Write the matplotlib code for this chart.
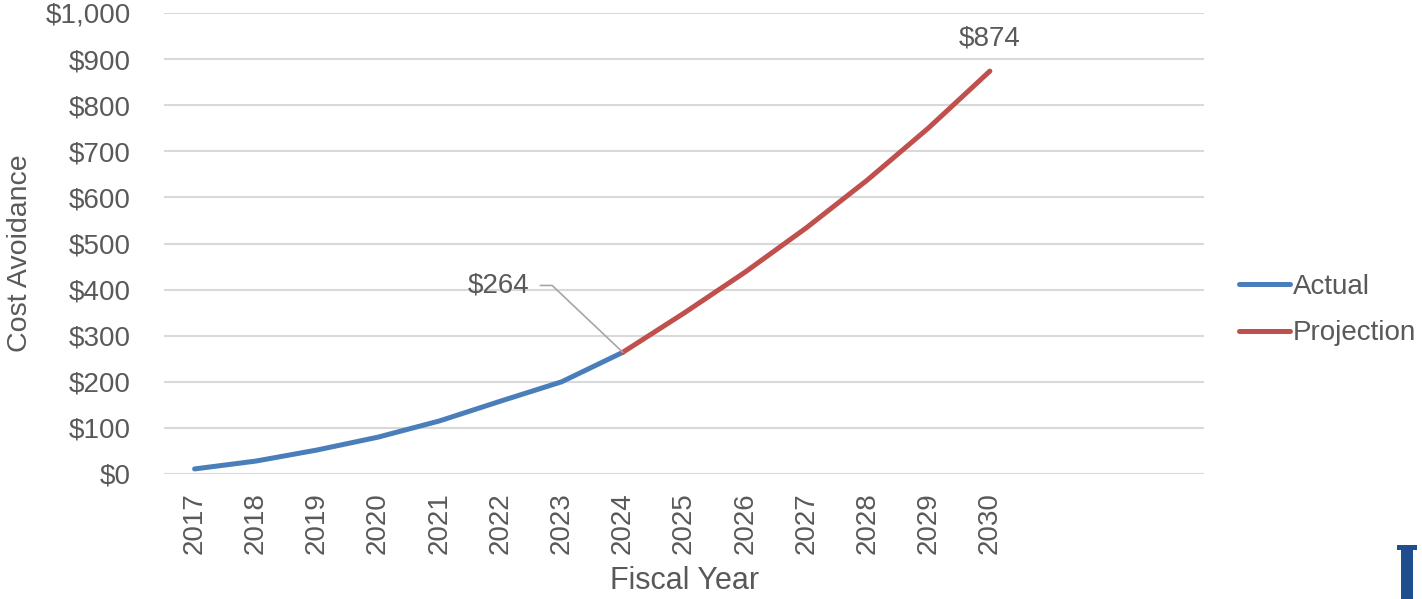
import matplotlib
matplotlib.use("Agg")
import matplotlib.pyplot as plt
from matplotlib.patches import Rectangle

years = [str(y) for y in range(2017, 2031)] + ["", "", ""]
actual_years = list(range(2017, 2025))
actual_values = [11, 28, 52, 80, 115, 158, 200, 264]
proj_years = list(range(2024, 2031))
proj_values = [264, 349, 438, 534, 638, 751, 874]
yticks = [0, 100, 200, 300, 400, 500, 600, 700, 800, 900, 1000]

TXT = "#595959"
BLUE = "#4A7EBB"
RED = "#C0504D"
GRID = "#D9D9D9"

plt.rcParams['font.family'] = ['Liberation Sans', 'DejaVu Sans']

W, H = 1422, 599
fig = plt.figure(figsize=(W / 100, H / 100), dpi=100)
ax = fig.add_axes([164 / W, 125 / H, (1204 - 164) / W, (474 - 13) / H])

xa = [y - 2017 for y in actual_years]
xp = [y - 2017 for y in proj_years]
ax.plot(xa, actual_values, color=BLUE, lw=3.6, solid_capstyle='round', label="Actual", zorder=3)
ax.plot(xp, proj_values, color=RED, lw=3.6, solid_capstyle='round', label="Projection", zorder=3)

ax.set_xlim(-0.5, len(years) - 0.5)
ax.set_ylim(0, 1000)
ax.set_yticks(yticks)
ax.set_yticklabels([f"${v:,}" for v in yticks])
ax.set_xticks(range(len(years)))
ax.set_xticklabels(years, rotation=90)
ax.tick_params(axis='both', length=0, labelsize=20, colors=TXT)
ax.tick_params(axis='y', pad=24)
ax.tick_params(axis='x', pad=13)
ax.grid(axis='y', color=GRID, lw=1.5)
ax.set_axisbelow(True)
for s in ax.spines.values():
    s.set_visible(False)

# data labels
i24 = actual_years.index(2024)
ax.annotate(f"${actual_values[i24]}", xy=(xa[i24], actual_values[i24]),
            xytext=(xa[i24] - 1.53, actual_values[i24] + 145),
            ha='right', va='center', fontsize=20, color=TXT,
            arrowprops=dict(arrowstyle='-', color='#A6A6A6', lw=1.2,
                            connectionstyle='angle,angleA=0,angleB=136.6,rad=0',
                            shrinkA=6, shrinkB=0))
ax.text(xp[-1], proj_values[-1] + 42, f"${proj_values[-1]}", ha='center', va='bottom',
        fontsize=20, color=TXT)

fig.text(20 / W, 1 - 253 / H, "Cost Avoidance", rotation=90, ha='center', va='center',
         fontsize=20.5, color=TXT)
fig.text(685 / W, 1 - 581 / H, "Fiscal Year", ha='center', va='center',
         fontsize=22, color=TXT)

leg = fig.legend(loc='center left', bbox_to_anchor=(1239 / W, 1 - 310 / H), frameon=False,
                 fontsize=20, handlelength=1.85, handletextpad=0.1, labelspacing=0.74,
                 borderpad=0, borderaxespad=0)
for t in leg.get_texts():
    t.set_color(TXT)

# logo fragment bottom right
fig.add_artist(Rectangle((1401 / W, 0), 12 / W, (599 - 548) / H, transform=fig.transFigure,
                         color="#1F4E8C", lw=0))
fig.add_artist(Rectangle((1397 / W, 1 - 550 / H), 20 / W, 5 / H, transform=fig.transFigure,
                         color="#1F4E8C", lw=0))

fig.savefig("out.png", dpi=100)
